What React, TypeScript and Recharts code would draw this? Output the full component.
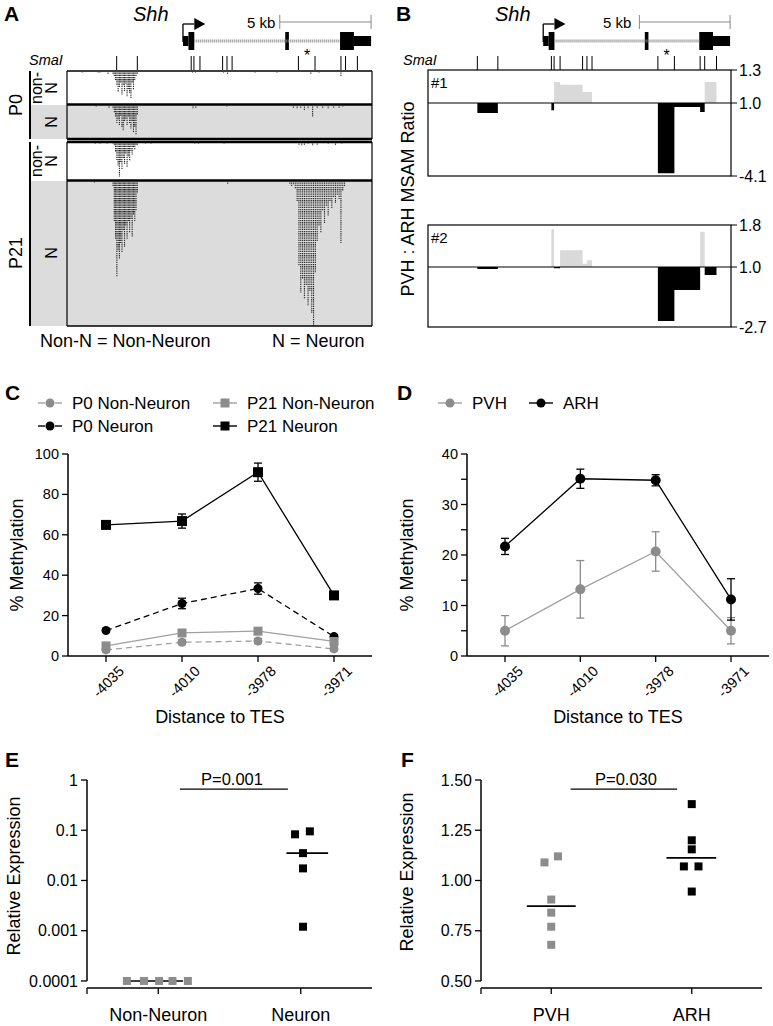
import React from "react";
import {
  ComposedChart,
  ScatterChart,
  LineChart,
  AreaChart,
  Scatter,
  Line,
  Area,
  XAxis,
  YAxis,
  ErrorBar,
  ReferenceLine,
  ReferenceArea,
  ReferenceDot,
} from "recharts";

const FONT = "'Liberation Sans', Arial, Helvetica, sans-serif";
const GREY = "#8c8c8c";
const GREY_LINE = "#a0a0a0";
const LANE_GREY = "#dcdcdc";
const GAIN_GREY = "#d9d9d9";

// ---- Shh locus, positions in kb from the left edge of the track ----
const REGION_KB = 16.7;
const smaISites = [2.72, 3.85, 6.8, 6.95, 7.28, 8.52, 8.76, 9.04, 12.67, 13.58, 15.0, 15.25, 15.9];
const tssKb = 6.35;
const exonStart = [6.35, 6.65, 11.95, 14.95, 15.71];
const exonEnd = [6.65, 6.97, 12.15, 15.71, 16.65];
const exonIsUtr = [true, false, false, false, true];
const intronKb = [6.97, 14.95];
const scaleBarKb = [11.65, 16.65];
const asteriskKb = 13.15;

// ---- reads (A): position in kb, read length in px of lane ----
const cluster1Kb = [2.52, 2.59, 2.66, 2.73, 2.8, 2.87, 2.94, 3.01, 3.08, 3.15, 3.22, 3.29, 3.36, 3.43, 3.5, 3.57, 3.64, 3.71, 3.78, 3.85];
const cluster2Kb = [12.2, 12.3, 12.4, 12.5, 12.6, 12.7, 12.8, 12.9, 13.0, 13.1, 13.2, 13.3, 13.4, 13.5, 13.6, 13.7, 13.8, 13.9, 14.0, 14.1, 14.2, 14.3, 14.4, 14.5, 14.6, 14.7, 14.8, 14.9, 15.0, 15.1, 15.2];

const p0NonNDepth = [3, 5, 9, 14, 21, 17, 12, 24, 15, 20, 13, 26, 18, 22, 28, 12, 19, 9, 6, 3];
const p0NonNOtherKb = [0.83, 1.7, 1.81, 2.25, 6.87, 7.03, 8.57, 8.79, 10.3, 11.5, 13.35, 13.8, 15.0];
const p0NonNOtherDepth = [2, 2, 2, 3, 2, 2, 2, 3, 2, 2, 3, 2, 6];

const p0NDepth = [4, 8, 12, 18, 15, 20, 11, 22, 26, 17, 14, 20, 12, 18, 24, 16, 28, 22, 30, 10];
const p0NOtherKb = [1.6, 2.3, 6.9, 7.05, 8.75, 12.4, 12.6, 12.8, 13.0, 13.2, 13.45, 13.7, 14.0, 14.3, 14.6, 14.9, 15.1];
const p0NOtherDepth = [2, 3, 4, 3, 2, 3, 4, 3, 5, 4, 12, 3, 3, 4, 3, 3, 2];

const p21NonNDepth = [2, 4, 10, 18, 24, 35, 20, 28, 16, 22, 12, 25, 15, 19, 9, 13, 6, 8, 4, 3];
const p21NonNOtherKb = [1.55, 1.8, 2.2, 4.3, 4.6, 7.0, 7.2, 8.6, 12.7, 12.85, 13.0, 13.2, 13.45, 13.7, 14.3, 14.7, 15.05];
const p21NonNOtherDepth = [1, 2, 2, 2, 1, 2, 2, 2, 3, 4, 3, 2, 4, 3, 2, 3, 2];

const p21NDepth1 = [5, 40, 58, 96, 70, 78, 62, 72, 50, 66, 45, 58, 40, 52, 38, 56, 34, 40, 30, 12];
const p21NDepth2 = [3, 5, 4, 8, 20, 85, 112, 98, 118, 105, 125, 110, 132, 145, 92, 60, 45, 52, 30, 42, 25, 35, 20, 28, 16, 22, 14, 18, 62, 10, 6];
const p21NOtherKb = [1.5, 8.8];
const p21NOtherDepth = [2, 3];

// ---- B: PVH : ARH MSAM ratio per SmaI fragment (step starts) ----
const box1GainKb = [0, 6.95, 7.28, 8.52, 9.04, 15.25, 15.9, 16.7];
const box1Gain = [1, 1.19, 1.165, 1.1, 1, 1.19, 1, 1];
const box1LossKb = [0, 2.72, 3.85, 6.8, 6.95, 12.67, 13.58, 15.0, 15.25, 16.7];
const box1Loss = [1, 0.3, 1, 0.5, 1, -3.9, 0.72, 0.37, 1, 1];
const box2GainKb = [0, 6.8, 6.95, 7.28, 8.52, 8.76, 9.04, 15.0, 15.25, 16.7];
const box2Gain = [1, 1.72, 1, 1.32, 1.06, 1.13, 1, 1.67, 1, 1];
const box2LossKb = [0, 2.72, 3.85, 6.95, 7.28, 12.67, 13.58, 15.0, 15.25, 15.9, 16.7];
const box2Loss = [1, 0.88, 1, 0.93, 1, -2.33, -0.42, 1, 0.51, 1, 1];

// ---- C / D: % methylation ----
const cpgSites = ["-4035", "-4010", "-3978", "-3971"];
const p0NonNeuron = [3, 6.8, 7.4, 3.5];
const p0NonNeuronErr = [1, 1.2, 1.2, 1];
const p0Neuron = [12.6, 26, 33.4, 9.6];
const p0NeuronErr = [0.8, 2.6, 2.8, 1];
const p21NonNeuron = [5, 11.4, 12.3, 7.2];
const p21NonNeuronErr = [1.5, 1.5, 1.5, 1.5];
const p21Neuron = [64.9, 66.8, 91, 30];
const p21NeuronErr = [1.5, 3.5, 4.5, 1];
const methTicksC = [0, 10, 20, 30, 40, 50, 60, 70, 80, 90, 100];

const pvhMeth = [5, 13.2, 20.7, 5];
const pvhMethErr = [3, 5.7, 3.9, 2.6];
const arhMeth = [21.7, 35.1, 34.8, 11.2];
const arhMethErr = [1.6, 1.9, 1.1, 4.1];
const methTicksD = [0, 5, 10, 15, 20, 25, 30, 35, 40];

// ---- E / F: relative expression ----
const exprGroupsE = ["Non-Neuron", "Neuron"];
const exprPos = [0.25, 0.75];
const nonNeuronExpr = [0.0001, 0.0001, 0.0001, 0.0001, 0.0001];
const nonNeuronJitter = [0.14, 0.2, 0.253, 0.3, 0.354];
const neuronExpr = [0.083, 0.095, 0.035, 0.0174, 0.0012];
const neuronJitter = [0.73, 0.782, 0.758, 0.758, 0.758];
const exprTicksE = [0.0001, 0.001, 0.01, 0.1, 1];

const exprGroupsF = ["PVH", "ARH"];
const pvhExpr = [1.09, 1.12, 0.905, 0.84, 0.77, 0.68];
const pvhJitter = [0.226, 0.274, 0.25, 0.25, 0.25, 0.25];
const arhExpr = [1.38, 1.2, 1.155, 1.07, 1.07, 0.945];
const arhJitter = [0.75, 0.75, 0.75, 0.722, 0.774, 0.75];
const exprTicksF = [0.5, 0.75, 1, 1.25, 1.5];

const medianSpanE = [[0.14, 0.337], [0.7, 0.846]];
const medianSpanF = [[0.163, 0.337], [0.66, 0.837]];
const pBarE = { y: 0.66, x1: 0.326, x2: 0.705 };
const pBarF = { y: 1.455, x1: 0.319, x2: 0.698 };

const median = (a: number[]) => {
  const s = [...a].sort((p, q) => p - q);
  const m = Math.floor(s.length / 2);
  return s.length % 2 ? s[m] : (s[m - 1] + s[m]) / 2;
};
const toPts = (xs: number[], ys: number[]) => xs.map((x, i) => ({ x, y: ys[i] }));
const toSteps = (xs: number[], vs: number[]) => xs.map((x, i) => ({ x, v: vs[i] }));

const A_LEFT = 67;
const A_W = 305;
const B_LEFT = 428;
const B_W = 303;

const ZERO = { top: 0, right: 0, bottom: 0, left: 0 };

// ---------------- gene model ----------------
const GeneTrack = ({ left, width }: { left: number; width: number }) => {
  const sites = smaISites.map((x) => ({ x, y: 70 }));
  return (
    <div style={{ position: "absolute", left, top: 0 }}>
      <ComposedChart width={width} height={72} margin={ZERO}>
        <XAxis type="number" dataKey="x" domain={[0, REGION_KB]} hide allowDataOverflow />
        <YAxis type="number" dataKey="y" domain={[0, 72]} reversed hide allowDataOverflow />
        <ReferenceLine
          segment={[{ x: scaleBarKb[0], y: 22 }, { x: scaleBarKb[1], y: 22 }]}
          stroke="#888"
          strokeWidth={1.2}
        />
        <ReferenceLine segment={[{ x: scaleBarKb[0], y: 15 }, { x: scaleBarKb[0], y: 29 }]} stroke="#888" />
        <ReferenceLine segment={[{ x: scaleBarKb[1], y: 15 }, { x: scaleBarKb[1], y: 29 }]} stroke="#888" />
        <ReferenceLine
          segment={[{ x: intronKb[0], y: 41 }, { x: intronKb[1], y: 41 }]}
          stroke="#8a8a8a"
          strokeWidth={3}
          strokeDasharray="1 1"
        />
        <ReferenceLine segment={[{ x: tssKb, y: 42 }, { x: tssKb, y: 24 }]} stroke="#000" strokeWidth={1.3} />
        <ReferenceLine segment={[{ x: tssKb, y: 24 }, { x: exonEnd[1], y: 24 }]} stroke="#000" strokeWidth={1.3} />
        <ReferenceDot
          x={exonEnd[1]}
          y={24}
          r={1}
          shape={(p: any) => (
            <polygon points={`${p.cx},${p.cy - 6} ${p.cx + 11},${p.cy} ${p.cx},${p.cy + 6}`} fill="#000" />
          )}
        />
        {exonStart.map((s, i) => (
          <ReferenceArea
            key={i}
            x1={s}
            x2={exonEnd[i]}
            y1={exonIsUtr[i] ? 36 : 32}
            y2={exonIsUtr[i] ? 46 : 50}
            fill="#000"
            fillOpacity={1}
            stroke="none"
          />
        ))}
        <ReferenceDot
          x={asteriskKb}
          y={61}
          r={1}
          shape={(p: any) => (
            <text x={p.cx} y={p.cy} textAnchor="middle" fontSize={16} fontFamily={FONT} fill="#000">
              *
            </text>
          )}
        />
        <Scatter
          data={sites}
          isAnimationActive={false}
          shape={(p: any) => <line x1={p.cx} x2={p.cx} y1={p.cy - 14} y2={p.cy} stroke="#000" strokeWidth={1} />}
        />
      </ComposedChart>
    </div>
  );
};

// ---------------- read lanes (A) ----------------
const readShape = (p: any) => (
  <line x1={p.cx} x2={p.cx} y1={1.5} y2={p.cy} stroke="#262626" strokeWidth={1.1} strokeDasharray="1.3 0.9" />
);

const lanes = [
  { top: 71, height: 33, fill: "#fff", reads: [...toPts(cluster1Kb, p0NonNDepth), ...toPts(p0NonNOtherKb, p0NonNOtherDepth)] },
  { top: 105, height: 34, fill: LANE_GREY, reads: [...toPts(cluster1Kb, p0NDepth), ...toPts(p0NOtherKb, p0NOtherDepth)] },
  { top: 142, height: 38, fill: "#fff", reads: [...toPts(cluster1Kb, p21NonNDepth), ...toPts(p21NonNOtherKb, p21NonNOtherDepth)] },
  {
    top: 181,
    height: 145,
    fill: LANE_GREY,
    reads: [...toPts(cluster1Kb, p21NDepth1), ...toPts(cluster2Kb, p21NDepth2), ...toPts(p21NOtherKb, p21NOtherDepth)],
  },
];

const ReadLane = ({ top, height, fill, reads }: { top: number; height: number; fill: string; reads: any[] }) => (
  <div style={{ position: "absolute", left: A_LEFT, top, width: A_W, height, background: fill }}>
    <ScatterChart width={A_W} height={height} margin={ZERO}>
      <XAxis type="number" dataKey="x" domain={[0, REGION_KB]} hide allowDataOverflow />
      <YAxis type="number" dataKey="y" domain={[0, height]} reversed hide allowDataOverflow />
      <Scatter data={reads} isAnimationActive={false} shape={readShape} />
    </ScatterChart>
  </div>
);

// ---------------- ratio boxes (B) ----------------
const RatioBox = (props: {
  top: number;
  mid: number;
  bottom: number;
  hi: number;
  lo: number;
  gain: { x: number; v: number }[];
  loss: { x: number; v: number }[];
}) => {
  const { top, mid, bottom, hi, lo, gain, loss } = props;
  const axisProps = {
    orientation: "right" as const,
    width: 40,
    type: "number" as const,
    axisLine: false,
    tickSize: 6,
    tickMargin: 2,
    tickLine: { stroke: "#000", strokeWidth: 1 },
    tick: { fontSize: 16, fill: "#000", fontFamily: FONT },
    tickFormatter: (v: number) => v.toFixed(1),
    allowDataOverflow: true,
  };
  return (
    <>
      <div style={{ position: "absolute", left: B_LEFT, top: top - 10 }}>
        <AreaChart width={B_W + 40} height={mid - top + 20} data={gain} margin={{ top: 10, bottom: 10, left: 0, right: 0 }}>
          <XAxis type="number" dataKey="x" domain={[0, REGION_KB]} hide allowDataOverflow />
          <YAxis {...axisProps} domain={[1, hi]} ticks={[hi]} />
          <Area
            type="stepAfter"
            dataKey="v"
            baseValue={1}
            fill={GAIN_GREY}
            fillOpacity={1}
            stroke="none"
            isAnimationActive={false}
          />
        </AreaChart>
      </div>
      <div style={{ position: "absolute", left: B_LEFT, top: mid - 10 }}>
        <AreaChart width={B_W + 40} height={bottom - mid + 20} data={loss} margin={{ top: 10, bottom: 10, left: 0, right: 0 }}>
          <XAxis type="number" dataKey="x" domain={[0, REGION_KB]} hide allowDataOverflow />
          <YAxis {...axisProps} domain={[lo, 1]} ticks={[1, lo]} />
          <Area
            type="stepAfter"
            dataKey="v"
            baseValue={1}
            fill="#000"
            fillOpacity={1}
            stroke="none"
            isAnimationActive={false}
          />
          <ReferenceLine y={1} stroke="#000" strokeWidth={1.2} />
        </AreaChart>
      </div>
    </>
  );
};

// ---------------- methylation line charts (C, D) ----------------
const makeYTick = (labelEvery: number, fontSize: number) => (p: any) => {
  const v = p.payload.value;
  const major = Math.abs(v % labelEvery) < 1e-9;
  return (
    <g>
      <line x1={p.x - 6} x2={p.x} y1={p.y} y2={p.y} stroke="#000" strokeWidth={1.3} />
      {major && (
        <text x={p.x - 9} y={p.y} dy="0.35em" textAnchor="end" fontSize={fontSize} fontFamily={FONT} fill="#000">
          {v}
        </text>
      )}
    </g>
  );
};

const RotTick = (p: any) => {
  const tx = p.x + 19;
  const ty = p.y + 10;
  return (
    <text x={tx} y={ty} textAnchor="end" transform={`rotate(-45 ${tx} ${ty})`} fontSize={14.5} fontFamily={FONT} fill="#000">
      {p.payload.value}
    </text>
  );
};

const circleDot = (r: number, fill: string) => (p: any) =>
  <circle key={`c${p.index}`} cx={p.cx} cy={p.cy} r={r} fill={fill} />;
const squareDot = (s: number, fill: string) => (p: any) =>
  <rect key={`s${p.index}`} x={p.cx - s / 2} y={p.cy - s / 2} width={s} height={s} fill={fill} />;

const cData = cpgSites.map((site, i) => ({
  site,
  p0nn: p0NonNeuron[i],
  p0nnE: p0NonNeuronErr[i],
  p0n: p0Neuron[i],
  p0nE: p0NeuronErr[i],
  p21nn: p21NonNeuron[i],
  p21nnE: p21NonNeuronErr[i],
  p21n: p21Neuron[i],
  p21nE: p21NeuronErr[i],
}));

const dData = cpgSites.map((site, i) => ({
  site,
  pvh: pvhMeth[i],
  pvhE: pvhMethErr[i],
  arh: arhMeth[i],
  arhE: arhMethErr[i],
}));

const xAxisLine = { stroke: "#000", strokeWidth: 1.5 };
const tickLine = { stroke: "#000", strokeWidth: 1.3 };

const ChartC = () => (
  <div style={{ position: "absolute", left: 0, top: 440 }}>
    <LineChart width={380} height={290} data={cData} margin={{ top: 14, right: 8, bottom: 0, left: 0 }}>
      <XAxis
        dataKey="site"
        interval={0}
        height={74}
        padding={{ left: 38, right: 38 }}
        tickSize={6}
        tickMargin={0}
        tick={RotTick}
        axisLine={xAxisLine}
        tickLine={tickLine}
      />
      <YAxis
        width={68}
        type="number"
        domain={[0, 100]}
        ticks={methTicksC}
        tick={makeYTick(20, 14.5)}
        tickSize={0}
        tickMargin={0}
        tickLine={false}
        axisLine={xAxisLine}
        allowDataOverflow
      />
      <Line dataKey="p0n" stroke="#000" strokeWidth={1.3} strokeDasharray="6 4" dot={circleDot(4.5, "#000")} isAnimationActive={false}>
        <ErrorBar dataKey="p0nE" width={4} stroke="#000" strokeWidth={1.3} />
      </Line>
      <Line dataKey="p21n" stroke="#000" strokeWidth={1.3} dot={squareDot(10, "#000")} isAnimationActive={false}>
        <ErrorBar dataKey="p21nE" width={4} stroke="#000" strokeWidth={1.3} />
      </Line>
      <Line dataKey="p0nn" stroke={GREY_LINE} strokeWidth={1.3} strokeDasharray="6 4" dot={circleDot(4.5, GREY)} isAnimationActive={false}>
        <ErrorBar dataKey="p0nnE" width={4} stroke={GREY} strokeWidth={1.3} />
      </Line>
      <Line dataKey="p21nn" stroke={GREY_LINE} strokeWidth={1.3} dot={squareDot(9, GREY)} isAnimationActive={false}>
        <ErrorBar dataKey="p21nnE" width={4} stroke={GREY} strokeWidth={1.3} />
      </Line>
    </LineChart>
  </div>
);

const ChartD = () => (
  <div style={{ position: "absolute", left: 390, top: 440 }}>
    <LineChart width={383} height={290} data={dData} margin={{ top: 14, right: 4, bottom: 0, left: 0 }}>
      <XAxis
        dataKey="site"
        interval={0}
        height={74}
        padding={{ left: 38, right: 38 }}
        tickSize={6}
        tickMargin={0}
        tick={RotTick}
        axisLine={xAxisLine}
        tickLine={tickLine}
      />
      <YAxis
        width={77}
        type="number"
        domain={[0, 40]}
        ticks={methTicksD}
        tick={makeYTick(10, 14.5)}
        tickSize={0}
        tickMargin={0}
        tickLine={false}
        axisLine={xAxisLine}
        allowDataOverflow
      />
      <Line dataKey="pvh" stroke={GREY_LINE} strokeWidth={1.3} dot={circleDot(5, GREY)} isAnimationActive={false}>
        <ErrorBar dataKey="pvhE" width={4} stroke={GREY} strokeWidth={1.3} />
      </Line>
      <Line dataKey="arh" stroke="#000" strokeWidth={1.3} dot={circleDot(5, "#000")} isAnimationActive={false}>
        <ErrorBar dataKey="arhE" width={4} stroke="#000" strokeWidth={1.3} />
      </Line>
    </LineChart>
  </div>
);

// ---------------- expression dot plots (E, F) ----------------
const ExprChart = (props: {
  left: number;
  plotLeft: number;
  names: string[];
  g1: { x: number; y: number }[];
  g2: { x: number; y: number }[];
  m1: number;
  m2: number;
  spans: number[][];
  pBar: { y: number; x1: number; x2: number };
  log: boolean;
  domain: [number, number];
  yMin: number;
  yMax: number;
  ticks: number[];
  fmt: (v: number) => string;
}) => {
  const { left, plotLeft, names, g1, g2, m1, m2, spans, pBar, log, domain, yMin, yMax, ticks, fmt } = props;
  return (
    <div style={{ position: "absolute", left, top: 770 }}>
      <ScatterChart width={380} height={256} margin={{ top: 10, right: 8, bottom: 0, left: 0 }}>
        <XAxis
          type="number"
          dataKey="x"
          domain={[0, 1]}
          ticks={[0, ...exprPos]}
          tickFormatter={(v: number) => (v === exprPos[0] ? names[0] : v === exprPos[1] ? names[1] : "")}
          height={38}
          tickSize={6}
          tickMargin={14}
          tick={{ fontSize: 18, fill: "#000", fontFamily: FONT }}
          axisLine={xAxisLine}
          tickLine={tickLine}
          allowDataOverflow
        />
        <YAxis
          type="number"
          dataKey="y"
          scale={log ? "log" : "linear"}
          domain={domain}
          ticks={ticks}
          tickFormatter={fmt}
          width={plotLeft}
          tickSize={6}
          tickMargin={3}
          tick={{ fontSize: 16, fill: "#000", fontFamily: FONT }}
          axisLine={false}
          tickLine={tickLine}
          allowDataOverflow
        />
        <ReferenceLine segment={[{ x: 0, y: yMin }, { x: 0, y: yMax }]} stroke="#000" strokeWidth={1.5} ifOverflow="visible" />
        <ReferenceLine segment={[{ x: pBar.x1, y: pBar.y }, { x: pBar.x2, y: pBar.y }]} stroke="#000" strokeWidth={1.3} />
        <Scatter data={g1} fill={GREY} shape="square" isAnimationActive={false} />
        <Scatter data={g2} fill="#000" shape="square" isAnimationActive={false} />
        <ReferenceLine segment={[{ x: spans[0][0], y: m1 }, { x: spans[0][1], y: m1 }]} stroke="#000" strokeWidth={1.6} />
        <ReferenceLine segment={[{ x: spans[1][0], y: m2 }, { x: spans[1][1], y: m2 }]} stroke="#000" strokeWidth={1.6} />
      </ScatterChart>
    </div>
  );
};

// ---------------- overlay text & frames ----------------
const LegendItem = (p: { x: number; y: number; color: string; line: string; dashed?: boolean; marker: "circle" | "square"; label: string }) => (
  <g>
    {p.dashed ? (
      <>
        <line x1={p.x} x2={p.x + 7} y1={p.y} y2={p.y} stroke={p.line} strokeWidth={1.4} />
        <line x1={p.x + 17} x2={p.x + 24} y1={p.y} y2={p.y} stroke={p.line} strokeWidth={1.4} />
      </>
    ) : (
      <line x1={p.x} x2={p.x + 24} y1={p.y} y2={p.y} stroke={p.line} strokeWidth={1.4} />
    )}
    {p.marker === "circle" ? (
      <circle cx={p.x + 12} cy={p.y} r={4.5} fill={p.color} />
    ) : (
      <rect x={p.x + 7.5} y={p.y - 4.5} width={9} height={9} fill={p.color} />
    )}
    <text x={p.x + 34} y={p.y + 6} fontSize={17}>
      {p.label}
    </text>
  </g>
);

const Overlay = () => (
  <svg
    width={773}
    height={1026}
    style={{ position: "absolute", left: 0, top: 0, pointerEvents: "none" }}
    fontFamily={FONT}
    fill="#000"
  >
    {/* panel letters */}
    {[
      ["A", 4, 21],
      ["B", 396, 21],
      ["C", 5, 400],
      ["D", 397, 400],
      ["E", 5, 767],
      ["F", 401, 767],
    ].map(([t, x, y]) => (
      <text key={t as string} x={x as number} y={y as number} fontSize={21} fontWeight="bold">
        {t}
      </text>
    ))}

    {/* A / B headers */}
    <text x={133} y={21} fontSize={20} fontStyle="italic">Shh</text>
    <text x={495} y={21} fontSize={20} fontStyle="italic">Shh</text>
    <text x={247} y={28} fontSize={15}>5 kb</text>
    <text x={603} y={28} fontSize={15}>5 kb</text>
    <text x={29} y={65} fontSize={14.5} fontStyle="italic">SmaI</text>
    <text x={403} y={65} fontSize={14.5} fontStyle="italic">SmaI</text>

    {/* A label column */}
    <rect x={31} y={105} width={36} height={34} fill={LANE_GREY} />
    <rect x={31} y={181} width={36} height={145} fill={LANE_GREY} />
    <line x1={30} x2={30} y1={71} y2={139} stroke="#000" strokeWidth={2} />
    <line x1={30} x2={30} y1={142} y2={326} stroke="#000" strokeWidth={2} />
    <text transform="translate(22,105) rotate(-90)" textAnchor="middle" fontSize={18}>P0</text>
    <text transform="translate(22,253) rotate(-90)" textAnchor="middle" fontSize={18}>P21</text>
    <text transform="translate(42,88) rotate(-90)" textAnchor="middle" fontSize={16}>
      <tspan x={0} y={0}>non-</tspan>
      <tspan x={0} y={15}>N</tspan>
    </text>
    <text transform="translate(42,161) rotate(-90)" textAnchor="middle" fontSize={16}>
      <tspan x={0} y={0}>non-</tspan>
      <tspan x={0} y={15}>N</tspan>
    </text>
    <text transform="translate(57,122) rotate(-90)" textAnchor="middle" fontSize={16}>N</text>
    <text transform="translate(57,253) rotate(-90)" textAnchor="middle" fontSize={16}>N</text>

    {/* A lane frames */}
    <g stroke="#000" fill="none">
      <line x1={A_LEFT} x2={A_LEFT + A_W} y1={71} y2={71} strokeWidth={1.5} />
      <line x1={A_LEFT} x2={A_LEFT + A_W} y1={104.5} y2={104.5} strokeWidth={2.5} />
      <line x1={A_LEFT} x2={A_LEFT + A_W} y1={139} y2={139} strokeWidth={2.5} />
      <line x1={A_LEFT} x2={A_LEFT + A_W} y1={142} y2={142} strokeWidth={2.5} />
      <line x1={A_LEFT} x2={A_LEFT + A_W} y1={180.5} y2={180.5} strokeWidth={2.5} />
      <line x1={A_LEFT} x2={A_LEFT + A_W} y1={326} y2={326} strokeWidth={1.5} />
      <line x1={A_LEFT} x2={A_LEFT} y1={71} y2={139} strokeWidth={1.2} />
      <line x1={A_LEFT + A_W} x2={A_LEFT + A_W} y1={71} y2={139} strokeWidth={1.2} />
      <line x1={A_LEFT} x2={A_LEFT} y1={142} y2={326} strokeWidth={1.2} />
      <line x1={A_LEFT + A_W} x2={A_LEFT + A_W} y1={142} y2={326} strokeWidth={1.2} />
    </g>
    <text x={40} y={347} fontSize={18}>Non-N = Non-Neuron</text>
    <text x={272} y={347} fontSize={18}>N = Neuron</text>

    {/* B frames & labels */}
    <rect x={B_LEFT} y={70} width={B_W} height={106} fill="none" stroke="#000" strokeWidth={1.2} />
    <rect x={B_LEFT} y={225} width={B_W} height={102} fill="none" stroke="#000" strokeWidth={1.2} />
    <text x={431} y={88} fontSize={15}>#1</text>
    <text x={431} y={243} fontSize={15}>#2</text>
    <text transform="translate(414,199) rotate(-90)" textAnchor="middle" fontSize={18}>PVH : ARH MSAM Ratio</text>

    {/* C / D legends */}
    <LegendItem x={38} y={403} color={GREY} line={GREY_LINE} dashed marker="circle" label="P0 Non-Neuron" />
    <LegendItem x={213} y={403} color={GREY} line={GREY_LINE} marker="square" label="P21 Non-Neuron" />
    <LegendItem x={38} y={426} color="#000" line="#000" dashed marker="circle" label="P0 Neuron" />
    <LegendItem x={213} y={426} color="#000" line="#000" marker="square" label="P21 Neuron" />
    <LegendItem x={438} y={403} color={GREY} line={GREY_LINE} marker="circle" label="PVH" />
    <LegendItem x={529} y={403} color="#000" line="#000" marker="circle" label="ARH" />

    {/* axis titles */}
    <text transform="translate(23,555) rotate(-90)" textAnchor="middle" fontSize={18}>% Methylation</text>
    <text transform="translate(413,555) rotate(-90)" textAnchor="middle" fontSize={18}>% Methylation</text>
    <text x={220} y={723} textAnchor="middle" fontSize={18}>Distance to TES</text>
    <text x={618} y={723} textAnchor="middle" fontSize={18}>Distance to TES</text>
    <text transform="translate(20,876) rotate(-90)" textAnchor="middle" fontSize={18}>Relative Expression</text>
    <text transform="translate(413,872) rotate(-90)" textAnchor="middle" fontSize={18}>Relative Expression</text>
    <text x={232} y={785} textAnchor="middle" fontSize={16.5}>P=0.001</text>
    <text x={626} y={785} textAnchor="middle" fontSize={16.5}>P=0.030</text>
  </svg>
);

export default function App() {
  const eG1 = toPts(nonNeuronJitter, nonNeuronExpr);
  const eG2 = toPts(neuronJitter, neuronExpr);
  const fG1 = toPts(pvhJitter, pvhExpr);
  const fG2 = toPts(arhJitter, arhExpr);
  return (
    <div
      style={{
        position: "absolute",
        left: 0,
        top: 0,
        width: 773,
        height: 1026,
        background: "#fff",
        overflow: "hidden",
        fontFamily: FONT,
      }}
    >
      <GeneTrack left={A_LEFT} width={A_W} />
      <GeneTrack left={B_LEFT} width={B_W} />
      {lanes.map((l, i) => (
        <ReadLane key={i} {...l} />
      ))}
      <RatioBox top={70} mid={103} bottom={176} hi={1.3} lo={-4.1} gain={toSteps(box1GainKb, box1Gain)} loss={toSteps(box1LossKb, box1Loss)} />
      <RatioBox top={225} mid={267} bottom={327} hi={1.8} lo={-2.7} gain={toSteps(box2GainKb, box2Gain)} loss={toSteps(box2LossKb, box2Loss)} />
      <ChartC />
      <ChartD />
      <ExprChart
        left={0}
        plotLeft={87}
        names={exprGroupsE}
        g1={eG1}
        g2={eG2}
        m1={median(nonNeuronExpr)}
        m2={median(neuronExpr)}
        spans={medianSpanE}
        pBar={pBarE}
        log
        domain={[0.0000724, 1]}
        yMin={exprTicksE[0]}
        yMax={exprTicksE[exprTicksE.length - 1]}
        ticks={exprTicksE}
        fmt={(v: number) => String(v)}
      />
      <ExprChart
        left={390}
        plotLeft={91}
        names={exprGroupsF}
        g1={fG1}
        g2={fG2}
        m1={median(pvhExpr)}
        m2={median(arhExpr)}
        spans={medianSpanF}
        pBar={pBarF}
        log={false}
        domain={[0.465, 1.5]}
        yMin={exprTicksF[0]}
        yMax={exprTicksF[exprTicksF.length - 1]}
        ticks={exprTicksF}
        fmt={(v: number) => v.toFixed(2)}
      />
      <Overlay />
    </div>
  );
}
